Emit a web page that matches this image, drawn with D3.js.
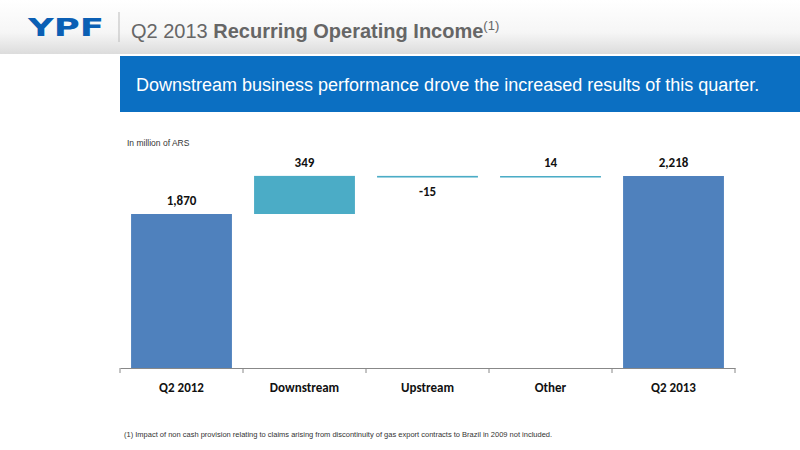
<!DOCTYPE html>
<html><head><meta charset="utf-8">
<script src="https://cdn.jsdelivr.net/npm/d3@7"></script>
<style>body{margin:0;background:#fff}svg{display:block}</style>
</head><body>
<script>
var categories = ["Q2 2012", "Downstream", "Upstream", "Other", "Q2 2013"];
var deltas = [1870, 349, -15, 14, 2218];
var isTotal = [true, false, false, false, true];
var labels = ["1,870", "349", "-15", "14", "2,218"];

var svg = d3.select("body").append("svg").attr("width", 800).attr("height", 450);
var defs = svg.append("defs");
var g1 = defs.append("linearGradient").attr("id", "hdr").attr("x1", 0).attr("y1", 0).attr("x2", 0).attr("y2", 1);
g1.append("stop").attr("offset", "0%").attr("stop-color", "#ffffff");
g1.append("stop").attr("offset", "60%").attr("stop-color", "#f6f6f6");
g1.append("stop").attr("offset", "100%").attr("stop-color", "#dcdcdc");
svg.append("rect").attr("width", 800).attr("height", 54).attr("fill", "url(#hdr)");
svg.append("text").attr("x", 28).attr("y", 36).attr("font-family", "DejaVu Sans, Arial, sans-serif")
  .attr("font-weight", "bold").attr("font-size", 24).attr("fill", "#0b5fb4")
  .attr("textLength", 76).attr("lengthAdjust", "spacingAndGlyphs").text("YPF");
svg.append("line").attr("x1", 119).attr("x2", 119).attr("y1", 12).attr("y2", 42).attr("stroke", "#bbb");
var t = svg.append("text").attr("x", 131).attr("y", 38).attr("font-family", "Liberation Sans, Arial, sans-serif")
  .attr("font-size", 20).attr("fill", "#666");
t.append("tspan").text("Q2 2013 ");
t.append("tspan").attr("font-weight", "bold").text("Recurring Operating Income");
t.append("tspan").attr("font-size", 13).attr("dy", -8).text("(1)");

svg.append("rect").attr("x", 120).attr("y", 56).attr("width", 680).attr("height", 56).attr("fill", "#0b6fc2");
svg.append("text").attr("x", 136).attr("y", 91).attr("font-family", "Liberation Sans, Arial, sans-serif")
  .attr("font-size", 18).attr("fill", "#fff").text("Downstream business performance drove the increased results of this quarter.");
svg.append("text").attr("x", 127).attr("y", 146).attr("font-family", "Liberation Sans, Arial, sans-serif")
  .attr("font-size", 8.5).attr("fill", "#333").text("In million of ARS");

var x = d3.scaleBand().domain(categories).range([120, 735]).paddingInner(0.18).paddingOuter(0.09);
var y = d3.scaleLinear().domain([460, 2218]).range([368, 176]);

var running = 0, rows = [];
categories.forEach(function (c, i) {
  var lo, hi;
  if (isTotal[i]) { lo = 460; hi = deltas[i]; running = deltas[i]; }
  else { var s = running; running += deltas[i]; lo = Math.min(s, running); hi = Math.max(s, running); }
  rows.push({ c: c, lo: lo, hi: hi, total: isTotal[i], label: labels[i], neg: deltas[i] < 0 });
});

svg.selectAll(".bar").data(rows).enter().append("rect")
  .attr("x", function (d) { return x(d.c); })
  .attr("width", x.bandwidth())
  .attr("y", function (d) { return y(d.hi); })
  .attr("height", function (d) { return Math.max(1.5, y(d.lo) - y(d.hi)); })
  .attr("fill", function (d) { return d.total ? "#4f81bd" : "#4bacc6"; });

svg.selectAll(".lbl").data(rows).enter().append("text")
  .attr("x", function (d) { return x(d.c) + x.bandwidth() / 2; })
  .attr("y", function (d) { return d.neg ? y(d.lo) + 18 : y(d.hi) - 9; })
  .attr("text-anchor", "middle").attr("font-family", "Carlito, Liberation Sans, Arial, sans-serif")
  .attr("font-weight", "bold").attr("font-size", 13).attr("fill", "#111").text(function (d) { return d.label; });

var axis = svg.append("g").attr("transform", "translate(0,368)")
  .call(d3.axisBottom(x).tickSize(5).tickSizeOuter(0));
axis.select(".domain").attr("stroke", "#888");
axis.selectAll(".tick line").remove();
axis.selectAll(".t2").data([120].concat(categories.map(function (c) { return x(c) + x.bandwidth() + x.step() * 0.09; })))
  .enter().append("line").attr("x1", function (d) { return d; }).attr("x2", function (d) { return d; })
  .attr("y1", 0).attr("y2", 5).attr("stroke", "#888");
axis.selectAll(".tick text").attr("font-family", "Carlito, Liberation Sans, Arial, sans-serif")
  .attr("font-weight", "bold").attr("font-size", 13).attr("fill", "#111").attr("dy", "1.2em");

svg.append("text").attr("x", 124).attr("y", 437).attr("font-family", "Liberation Sans, Arial, sans-serif")
  .attr("font-size", 7.5).attr("fill", "#333")
  .text("(1) Impact of non cash provision relating to claims arising from  discontinuity of gas export contracts to Brazil in 2009 not included.");
</script>
</body></html>
